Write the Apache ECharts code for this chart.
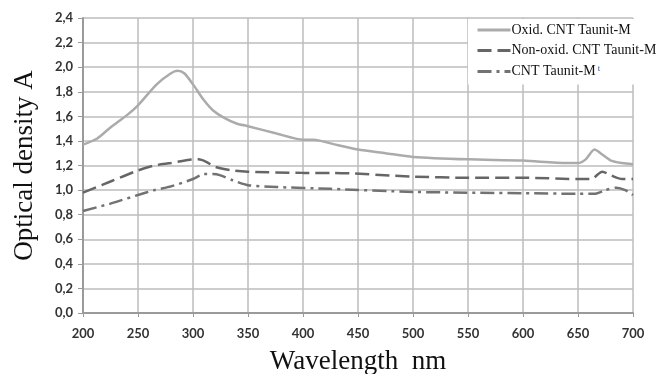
<!DOCTYPE html>
<html><head><meta charset="utf-8">
<script src="https://cdn.jsdelivr.net/npm/echarts@6/dist/echarts.min.js"></script>
<style>html,body{margin:0;padding:0;background:#fff}#c{width:659px;height:374px}</style>
</head><body><div id="c"></div>
<script>
const seriesNames = ['Oxid. CNT Taunit-M', 'Non-oxid. CNT Taunit-M', 'CNT Taunit-M'];
const yTicks = [0,0.2,0.4,0.6,0.8,1.0,1.2,1.4,1.6,1.8,2.0,2.2,2.4];
const xTicks = [200,250,300,350,400,450,500,550,600,650,700];

const oxidWl = [200,213,225,240,250,267,280,286,292,300,310,318,328,340,350,376,400,410,425,450,475,500,550,600,640,650,657,665,672,680,690,700];
const oxidA  = [1.37,1.42,1.51,1.61,1.69,1.86,1.95,1.97,1.95,1.86,1.73,1.65,1.59,1.54,1.52,1.46,1.41,1.41,1.38,1.33,1.30,1.27,1.25,1.24,1.22,1.22,1.25,1.33,1.29,1.24,1.22,1.21];

const nonWl = [200,225,250,265,280,300,305,312,320,336,350,400,425,500,550,600,650,662,672,680,690,700];
const nonA  = [0.98,1.07,1.16,1.20,1.22,1.25,1.25,1.23,1.19,1.16,1.15,1.14,1.14,1.11,1.10,1.10,1.09,1.09,1.15,1.12,1.09,1.09];

const cntWl = [200,225,250,265,280,300,310,318,325,336,350,376,425,500,600,650,665,675,685,693,700];
const cntA  = [0.83,0.89,0.96,1.00,1.03,1.09,1.13,1.13,1.12,1.08,1.04,1.025,1.01,0.985,0.975,0.97,0.97,1.00,1.02,1.00,0.96];

const pair = (xs, ys) => xs.map((x, i) => [x, ys[i]]);

const styles = [
  { color: '#ababab', width: 2.5, type: 'solid' },
  { color: '#666666', width: 2.5, type: [14, 6] },
  { color: '#727272', width: 2.5, type: [14, 5, 3, 5] }
];

const chart = echarts.init(document.getElementById('c'));
chart.setOption({
  animation: false,
  backgroundColor: '#fff',
  grid: { left: 83, right: 26, top: 18, bottom: 61, containLabel: false, outerBoundsMode: 'none' },
  xAxis: {
    type: 'value', min: xTicks[0], max: xTicks[xTicks.length-1], interval: 50,
    name: 'Wavelength  nm', nameLocation: 'middle', nameGap: 35,
    nameTextStyle: { fontFamily: 'Liberation Serif', fontSize: 27, color: '#111' },
    axisLine: { show: true, lineStyle: { color: '#9a9a9a', width: 2 } },
    axisTick: { show: true, length: 4, lineStyle: { color: '#9a9a9a' } },
    axisLabel: { margin: 14, fontFamily: 'Lato', fontWeight: 'bold', fontSize: 13, color: '#333' },
    splitLine: { show: true, lineStyle: { color: '#bdbdbd', width: 1.5 } }
  },
  yAxis: {
    type: 'value', min: 0, max: 2.4, interval: 0.2,
    name: 'Optical density A', nameLocation: 'middle', nameGap: 45,
    nameTextStyle: { fontFamily: 'Liberation Serif', fontSize: 27, color: '#111' },
    axisLine: { show: true, lineStyle: { color: '#9a9a9a', width: 2 } },
    axisTick: { show: true, length: 5, lineStyle: { color: '#9a9a9a' } },
    axisLabel: { margin: 10, fontFamily: 'Lato', fontWeight: 'bold', fontSize: 13, color: '#333',
      formatter: v => v.toFixed(1).replace('.', ',') },
    splitLine: { show: true, lineStyle: { color: '#bdbdbd', width: 1.5 } }
  },
  legend: {
    orient: 'vertical', left: 468, top: 19,
    backgroundColor: '#fff',
    padding: [4, 4, 6, 8],
    itemWidth: 33, itemHeight: 12, itemGap: 6.5,
    itemStyle: { opacity: 0 },
    lineStyle: { width: 3 },
    textStyle: { fontFamily: 'Liberation Serif', fontSize: 14, color: '#111', padding: [0,0,0,-4],
      rich: { sup: { fontSize: 9, color: '#2255cc', verticalAlign: 'top', padding: [0,0,6,2] } } },
    formatter: n => n === seriesNames[2] ? n + '{sup|t}' : n,
    data: seriesNames
  },
  series: seriesNames.map((n, i) => ({
    name: n, type: 'line',
    data: pair([oxidWl, nonWl, cntWl][i], [oxidA, nonA, cntA][i]),
    showSymbol: false, symbol: 'none', smooth: 0.25,
    lineStyle: styles[i], itemStyle: { color: styles[i].color }
  }))
});
</script></body></html>
